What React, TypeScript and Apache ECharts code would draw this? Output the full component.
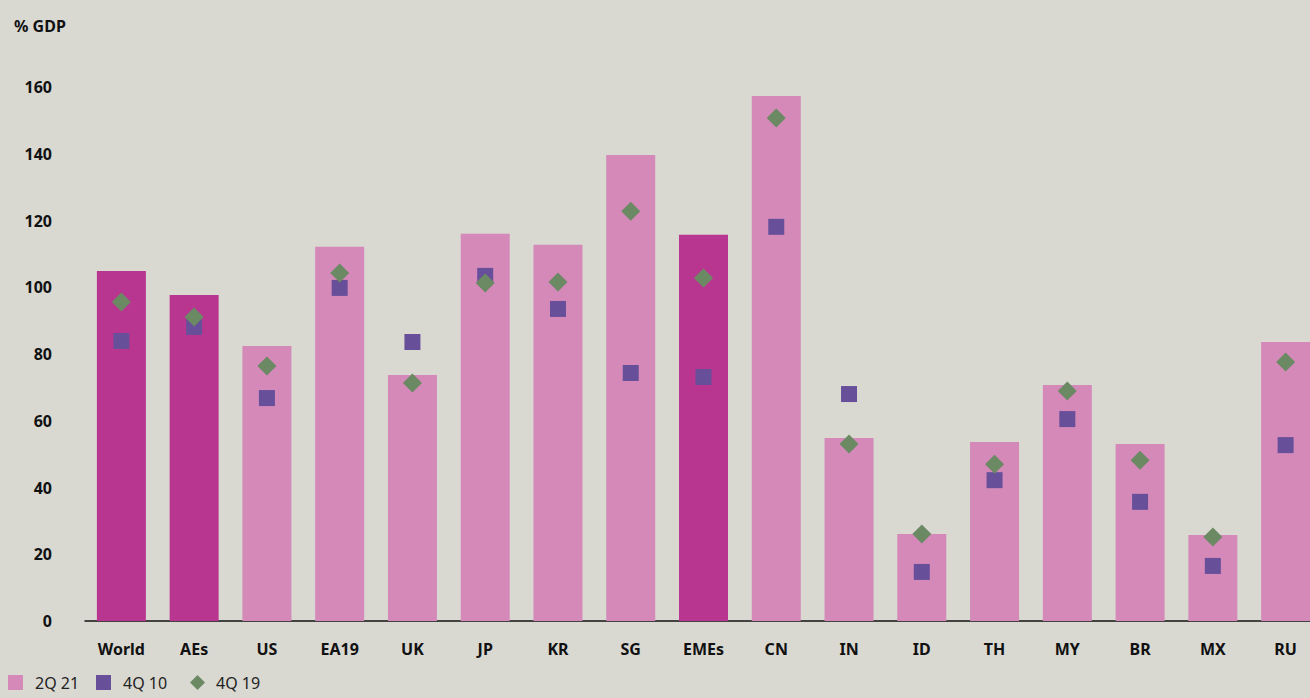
import React, { useEffect, useRef } from "react";
import * as echarts from "echarts";

const categories = ["World", "AEs", "US", "EA19", "UK", "JP", "KR", "SG", "EMEs", "CN", "IN", "ID", "TH", "MY", "BR", "MX", "RU"];
const aggregates = ["World", "AEs", "EMEs"];
const q2_21 = [104.9, 97.7, 82.4, 112.1, 73.7, 116.0, 112.7, 139.6, 115.7, 157.3, 54.8, 26.1, 53.6, 70.7, 53.0, 25.8, 83.6];
const q4_10 = [83.9, 88.1, 66.8, 99.8, 83.6, 103.4, 93.5, 74.3, 73.1, 118.1, 68.0, 14.7, 42.2, 60.5, 35.7, 16.5, 52.7];
const q4_19 = [95.6, 91.1, 76.4, 104.3, 71.3, 101.3, 101.6, 122.8, 102.8, 150.7, 53.0, 26.1, 47.0, 68.9, 48.2, 25.2, 77.6];
const legendNames = ["2Q 21", "4Q 10", "4Q 19"];

const LIGHT = "#d489b9";
const DARK = "#b8368f";
const PURPLE = "#674f9a";
const GREEN = "#6b8a64";
const BG = "#d9d9d2";
const FONT = "Noto Sans";

// the plot runs a little past the right edge, so the chart is wider than its frame
const FRAME_W = 1310;
const FRAME_H = 698;
const CHART_W = 1322;

export default function App() {
  const ref = useRef<HTMLDivElement>(null);

  useEffect(() => {
    if (!ref.current) return;
    const chart = echarts.init(ref.current, null, { renderer: "svg" });

    const legendY = 675;
    const legendText = (x: number, text: string) => ({
      type: "text",
      x,
      y: legendY + 8,
      style: { text, fontSize: 16, fill: "#222", fontFamily: FONT, verticalAlign: "middle" },
    });

    chart.setOption({
      animation: false,
      backgroundColor: BG,
      textStyle: { fontFamily: FONT },
      title: {
        text: "% GDP",
        left: 9,
        top: 13,
        textStyle: { fontSize: 16, fontWeight: "bold", color: "#111", fontFamily: FONT },
      },
      graphic: [
        { type: "rect", shape: { x: 8, y: legendY, width: 15, height: 15 }, style: { fill: LIGHT } },
        legendText(35, legendNames[0]),
        { type: "rect", shape: { x: 96, y: legendY, width: 15, height: 15 }, style: { fill: PURPLE } },
        legendText(123, legendNames[1]),
        {
          type: "polygon",
          shape: {
            points: [
              [197.5, legendY],
              [205, legendY + 7.5],
              [197.5, legendY + 15],
              [190, legendY + 7.5],
            ],
          },
          style: { fill: GREEN },
        },
        legendText(216, legendNames[2]),
      ],
      grid: { left: 85, right: 0, top: 87, bottom: 77, containLabel: false },
      xAxis: {
        type: "category",
        data: categories,
        axisLine: { lineStyle: { color: "#111", width: 1.5 } },
        axisTick: { show: false },
        axisLabel: { fontSize: 16, fontWeight: "bold", color: "#111", margin: 20, fontFamily: FONT },
      },
      yAxis: {
        type: "value",
        min: 0,
        max: 160,
        interval: 20,
        splitLine: { show: false },
        axisLine: { show: false },
        axisTick: { show: false },
        axisLabel: { fontSize: 16, fontWeight: "bold", color: "#111", margin: 33, fontFamily: FONT },
      },
      series: [
        {
          name: legendNames[0],
          type: "bar",
          barWidth: 49,
          itemStyle: { color: LIGHT },
          data: q2_21.map((v, i) => ({
            value: v,
            itemStyle: { color: aggregates.includes(categories[i]) ? DARK : LIGHT },
          })),
        },
        {
          name: legendNames[1],
          type: "scatter",
          symbol: "rect",
          symbolSize: 16,
          itemStyle: { color: PURPLE, opacity: 1 },
          data: q4_10,
          z: 3,
        },
        {
          name: legendNames[2],
          type: "scatter",
          symbol: "diamond",
          symbolSize: 19,
          itemStyle: { color: GREEN, opacity: 1 },
          data: q4_19,
          z: 4,
        },
      ],
    });
    return () => chart.dispose();
  }, []);

  return (
    <div
      style={{
        position: "fixed",
        left: 0,
        top: 0,
        width: FRAME_W,
        height: FRAME_H,
        overflow: "hidden",
        background: BG,
      }}
    >
      <div ref={ref} style={{ width: CHART_W, height: FRAME_H }} />
    </div>
  );
}
